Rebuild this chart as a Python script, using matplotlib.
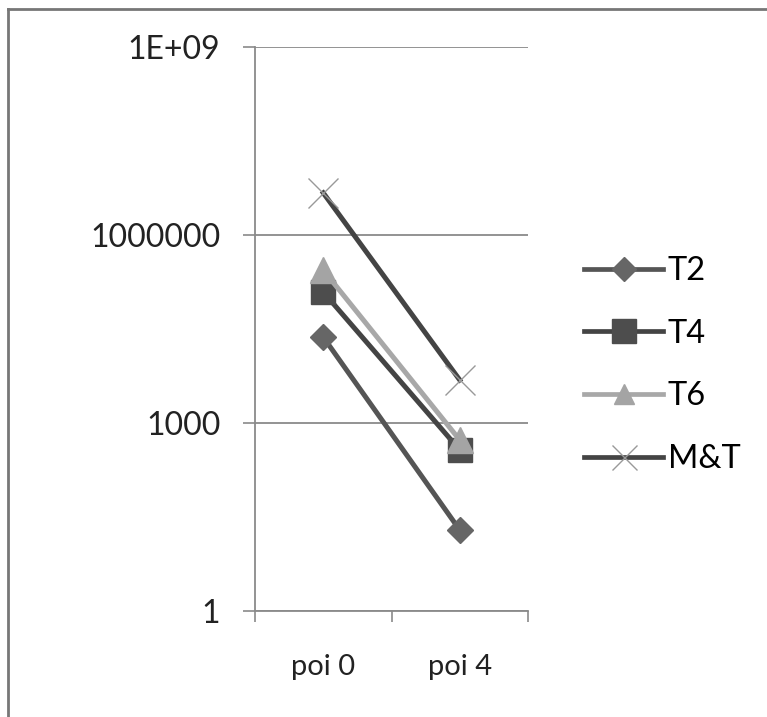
import matplotlib
matplotlib.use("Agg")
import matplotlib.pyplot as plt
from matplotlib.lines import Line2D

plt.rcParams['font.family'] = ['Lato', 'DejaVu Sans']

categories = ["poi 0", "poi 4"]
series_names = ["T2", "T4", "T6", "M&T"]
t2 = [23500, 19.6]
t4 = [123000, 371]
t6 = [276000, 535]
mt = [4700000, 4850]
y_ticks = [1, 1e3, 1e6, 1e9]
y_labels = ["1", "1000", "1000000", "1E+09"]

fig = plt.figure(figsize=(7.67, 7.17), dpi=100)
ax = fig.add_axes([255/767, 1-611/717, 273/767, 564/717])

x = [0, 1]
ax.plot(x, t2, color='#555555', lw=3.6, marker='D', ms=13, mfc='#666666', mec='#666666', zorder=3)
ax.plot(x, t4, color='#444444', lw=3.6, marker='s', ms=17, mfc='#4d4d4d', mec='#4d4d4d', zorder=3)
ax.plot(x, t6, color='#a8a8a8', lw=3.6, marker='^', ms=19, mfc='#a4a4a4', mec='#a4a4a4', zorder=3)
ax.plot(x, mt, color='#444444', lw=3.6, marker='x', ms=22, mew=1.0, mec='#999999', zorder=3)

ax.set_yscale('log')
ax.set_ylim(1, 1e9)
ax.set_xlim(-0.5, 1.5)
ax.set_yticks(y_ticks)
ax.set_yticklabels(y_labels, fontsize=23, color='#222222')
ax.minorticks_off()
ax.yaxis.grid(True, color='#8a8a8a', lw=1.3)
ax.set_axisbelow(True)

ax.set_xticks([-0.5, 0.5, 1.5])
ax.set_xticklabels([])
ax.tick_params(axis='x', length=8, width=1.2, color='#8a8a8a')
ax.tick_params(axis='y', length=9, width=1.2, color='#8a8a8a', pad=16)
for i, c in enumerate(categories):
    ax.text(x[i], -0.1, c, transform=ax.get_xaxis_transform(), ha='center', va='center', fontsize=21, color='#222222')

for s in ['top', 'right']:
    ax.spines[s].set_visible(False)
for s in ['left', 'bottom']:
    ax.spines[s].set_color('#8a8a8a')
    ax.spines[s].set_linewidth(1.3)

handles = [
    Line2D([], [], color='#555555', lw=3.4, marker='D', ms=12, mfc='#666666', mec='#666666'),
    Line2D([], [], color='#444444', lw=3.4, marker='s', ms=17, mfc='#4d4d4d', mec='#4d4d4d'),
    Line2D([], [], color='#a8a8a8', lw=3.4, marker='^', ms=14, mfc='#a4a4a4', mec='#a4a4a4'),
    Line2D([], [], color='#444444', lw=3.4, marker='x', ms=18, mew=1.0, mec='#999999'),
]
fig.legend(handles, series_names, loc='center left', bbox_to_anchor=(555/767, 1-365/717),
           frameon=False, fontsize=23.5, handlelength=2.4, handletextpad=0.15, labelspacing=1.0)

# border like the pasted chart frame
fig.add_artist(Line2D([8/767, 8/767], [0, 1-9/717], color='#777777', lw=2, transform=fig.transFigure))
fig.add_artist(Line2D([8/767, 1], [1-9/717, 1-9/717], color='#777777', lw=2, transform=fig.transFigure))

fig.savefig("out.png", dpi=100)
